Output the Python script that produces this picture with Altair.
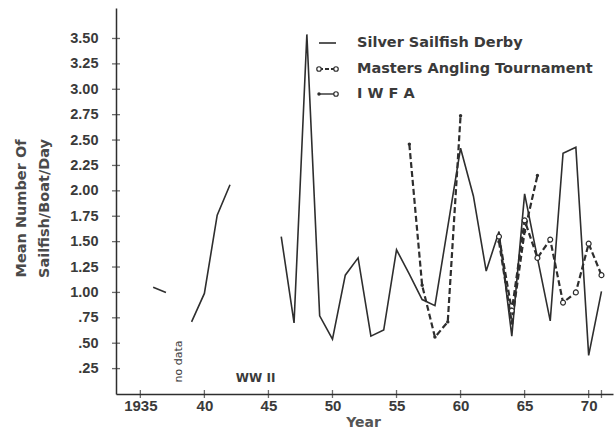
import altair as alt
import pandas as pd

# ---------------- data ----------------
derby_years = [1936, 1937,
               1939, 1940, 1941, 1942,
               1946, 1947, 1948, 1949, 1950, 1951, 1952, 1953, 1954, 1955, 1956,
               1957, 1958, 1960, 1961, 1962, 1963, 1964, 1965, 1966, 1967, 1968,
               1969, 1970, 1971]
derby_values = [1.05, 1.00,
                0.71, 0.99, 1.76, 2.06,
                1.55, 0.70, 3.54, 0.77, 0.54, 1.17, 1.34, 0.57, 0.63, 1.42, 1.18,
                0.93, 0.87, 2.42, 1.95, 1.21, 1.60, 0.57, 1.97, 1.34, 0.72, 2.37,
                2.43, 0.38, 1.01]
derby_segment = [1, 1,
                 2, 2, 2, 2,
                 3, 3, 3, 3, 3, 3, 3, 3, 3, 3, 3,
                 3, 3, 3, 3, 3, 3, 3, 3, 3, 3, 3,
                 3, 3, 3]

masters_years = [1963, 1964, 1965, 1966, 1967, 1968, 1969, 1970, 1971]
masters_values = [1.55, 0.82, 1.71, 1.34, 1.52, 0.90, 1.00, 1.48, 1.17]

iwfa_years = [1956, 1957, 1958, 1959, 1960, 1963, 1964, 1965, 1966]
iwfa_values = [2.46, 1.07, 0.56, 0.71, 2.74, 1.50, 0.70, 1.60, 2.15]
iwfa_segment = [1, 1, 1, 1, 1, 2, 2, 2, 2]

x_ticks = [1935, 1940, 1945, 1950, 1955, 1960, 1965, 1970, 1971]
y_ticks = [0.25, 0.5, 0.75, 1.0, 1.25, 1.5, 1.75, 2.0, 2.25, 2.5, 2.75, 3.0, 3.25, 3.5]

legend_labels = ["Silver Sailfish Derby", "Masters Angling Tournament", "I W F A"]

notes_text = ["no data", "WW II"]
notes_year = [1938, 1944]
notes_value = [0.32, 0.16]
notes_angle = [270, 0]

# ---------------- layout / style ----------------
W, H = 497, 386
INK = "#2e2e2e"
TXT = "#3a3a3a"
FONT = "DejaVu Sans"
NUMFONT = "Liberation Sans"

xs = alt.Scale(domain=[1933.1, 1971.9], nice=False, zero=False)
ys = alt.Scale(domain=[0, 3.8], nice=False, zero=False)

derby = pd.DataFrame({"year": derby_years, "value": derby_values, "seg": derby_segment})
masters = pd.DataFrame({"year": masters_years, "value": masters_values})
iwfa = pd.DataFrame({"year": iwfa_years, "value": iwfa_values, "seg": iwfa_segment})

x_axis = alt.Axis(
    values=x_ticks,
    labelExpr="datum.value == 1935 ? '1935' : (datum.value == 1971 ? '' : substring(toString(datum.value), 2, 4))",
    ticks=False, grid=False,
    domainColor=INK, domainWidth=1.5,
    labelFont=NUMFONT, labelFontSize=15, labelFontWeight="bold", labelColor=TXT,
    labelPadding=4, labelFlush=False, labelOverlap=False,
    title="Year", titleFont=FONT, titleFontSize=14, titleFontWeight="bold",
    titleColor="#555555", titleX=247, titleY=28, titleBaseline="middle",
)
y_axis = alt.Axis(
    values=y_ticks,
    labelExpr="datum.value < 1 ? replace(format(datum.value, '.2f'), '0', '') : format(datum.value, '.2f')",
    ticks=False, grid=False,
    domainColor=INK, domainWidth=1.5,
    labelFont=NUMFONT, labelFontSize=14.5, labelFontWeight="bold", labelColor=TXT,
    labelPadding=18, labelOverlap=False, labelBound=False, labelSeparation=0,
    title=["Mean Number Of", "Sailfish/Boat/Day"], titleFont=FONT, titleFontSize=14.5,
    titleFontWeight="bold", titleColor="#4a4a4a", titleLineHeight=23,
    titleX=-95, titleY=200, titleBaseline="middle", titleAlign="center",
)

px = alt.X("year:Q", scale=xs, axis=x_axis)
py = alt.Y("value:Q", scale=ys, axis=y_axis)

derby_line = alt.Chart(derby).mark_line(color=INK, strokeWidth=1.6).encode(
    x=px, y=py, detail="seg:N", order="year:Q")

masters_line = alt.Chart(masters).mark_line(color=INK, strokeWidth=2.2, strokeDash=[6, 3]).encode(
    x=px, y=py, order="year:Q")
masters_pts = alt.Chart(masters).mark_point(shape="circle", filled=False, color=INK,
                                            size=24, strokeWidth=1.2, fill="white", fillOpacity=1).encode(
    x=px, y=py)

iwfa_line = alt.Chart(iwfa).mark_line(color=INK, strokeWidth=2.2, strokeDash=[6, 3]).encode(
    x=px, y=py, detail="seg:N", order="year:Q")
iwfa_pts = alt.Chart(iwfa).mark_point(shape="circle", filled=True, color=INK, size=12, opacity=1).encode(
    x=px, y=py)

# crossing tick marks on both axes
ytick_layer = alt.Chart(pd.DataFrame({"value": y_ticks})).mark_tick(
    orient="horizontal", size=8, thickness=1.3, color=INK).encode(
    x=alt.value(0), y=py)
xtick_layer = alt.Chart(pd.DataFrame({"year": x_ticks})).mark_tick(
    orient="vertical", size=8, thickness=1.3, color=INK).encode(
    x=px, y=alt.value(H))

notes = pd.DataFrame({"text": notes_text, "year": notes_year, "value": notes_value, "angle": notes_angle})
note_nodata = alt.Chart(notes[notes["angle"] == 270]).mark_text(
    angle=270, font=FONT, fontSize=11, color=TXT, align="center", baseline="middle").encode(
    x=px, y=py, text="text:N")
note_ww = alt.Chart(notes[notes["angle"] == 0]).mark_text(
    font=FONT, fontSize=12, fontWeight="bold", color=TXT, align="center", baseline="middle").encode(
    x=px, y=py, text="text:N")

# ---------------- hand-drawn legend ----------------
one = pd.DataFrame({"k": [0]})
LX0, LX1, LTX = 203, 220, 241
LROWS = [35, 61, 86]


def ltext(label, ypx):
    return alt.Chart(one).mark_text(align="left", baseline="middle", font=FONT, fontSize=14.5,
                                    fontWeight="bold", color=TXT, text=label).encode(
        x=alt.value(LTX), y=alt.value(ypx))


def lrule(ypx, dash=None, width=1.6):
    kw = dict(color=INK, strokeWidth=width)
    if dash:
        kw["strokeDash"] = dash
    return alt.Chart(one).mark_rule(**kw).encode(
        x=alt.value(LX0), x2=alt.value(LX1), y=alt.value(ypx))


def lpoint(xpx, ypx, filled):
    if filled:
        m = alt.Chart(one).mark_point(shape="circle", filled=True, color=INK, size=12, opacity=1)
    else:
        m = alt.Chart(one).mark_point(shape="circle", filled=False, color=INK, size=20,
                                      strokeWidth=1.2, fill="white", fillOpacity=1)
    return m.encode(x=alt.value(xpx), y=alt.value(ypx))


legend = [
    lrule(LROWS[0]), ltext(legend_labels[0], LROWS[0]),
    lrule(LROWS[1], dash=[4, 2], width=2), lpoint(LX0, LROWS[1], False), lpoint(LX1, LROWS[1], False),
    ltext(legend_labels[1], LROWS[1]),
    lrule(LROWS[2], width=1.4), lpoint(LX0, LROWS[2], True), lpoint(LX1, LROWS[2], False),
    ltext(legend_labels[2], LROWS[2]),
]

chart = alt.layer(
    derby_line, masters_line, iwfa_line, masters_pts, iwfa_pts,
    ytick_layer, xtick_layer, note_nodata, note_ww, *legend
).properties(
    width=W, height=H,
    padding={"left": 116, "top": 8, "right": 3, "bottom": 41},
    autosize=alt.AutoSizeParams(type="none"),
    background="white",
).configure_view(stroke=None).configure_axis(labelOverlap=False).configure_axisY(labelOverlap=False)

chart.save("out.html", embed_options={"renderer": "svg", "actions": False})
